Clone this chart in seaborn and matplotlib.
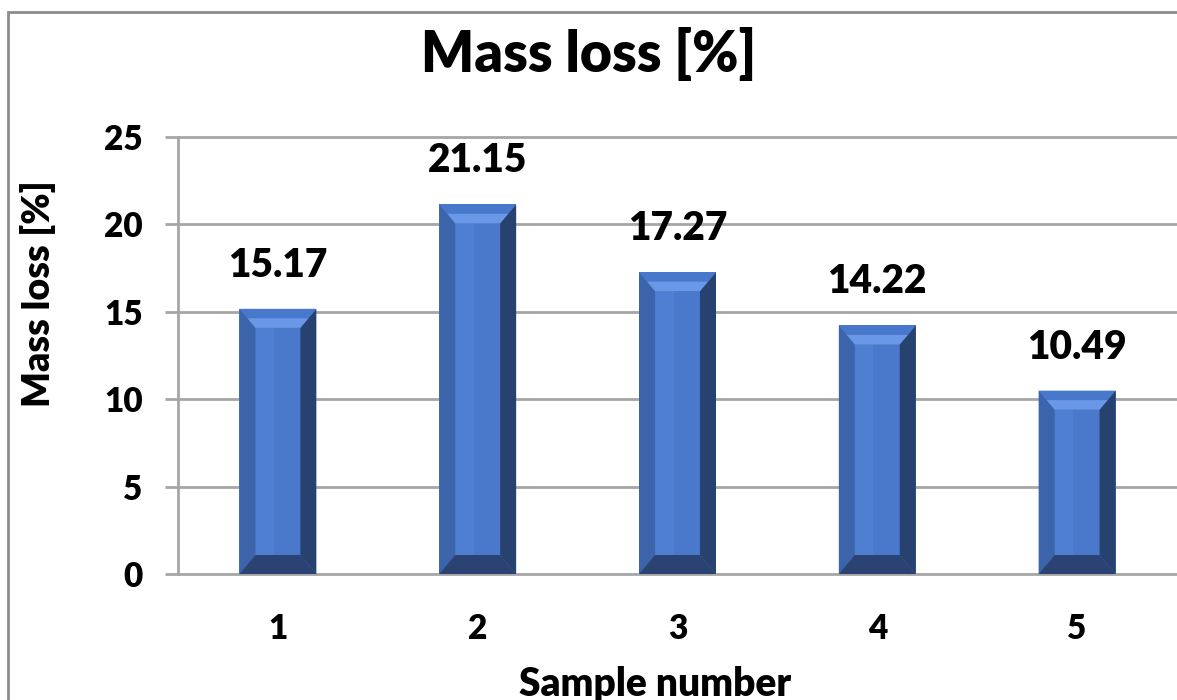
import matplotlib
matplotlib.use("Agg")
import matplotlib.pyplot as plt
import seaborn as sns
import pandas as pd
from matplotlib.patches import Polygon, Rectangle

# ---- data ----
samples = ["1", "2", "3", "4", "5"]
mass_loss = [15.17, 21.15, 17.27, 14.22, 10.49]
value_labels = ["15.17", "21.15", "17.27", "14.22", "10.49"]
y_ticks = [0, 5, 10, 15, 20, 25]
title = "Mass loss [%]"
y_title = "Mass loss [%]"
x_title = "Sample number"

sns.set_theme(style="white")
plt.rcParams['font.family'] = ['Lato', 'DejaVu Sans']
WT = "heavy"

W, H = 1177, 700
fig = plt.figure(figsize=(W / 100, H / 100), dpi=100)
fig.patch.set_facecolor("white")
ax = fig.add_axes([178 / W, 1 - 574 / H, 1 - 178 / W, (574 - 137) / H])

df = pd.DataFrame({"Sample": samples, "Mass": mass_loss})
sns.barplot(data=df, x="Sample", y="Mass", color="#4a79cb", saturation=1,
            width=0.385, edgecolor="none", ax=ax, zorder=3)

ax.set_xlim(-0.5, len(samples) - 0.5)
ax.set_ylim(0, 25)
ax.set_yticks(y_ticks)

grid_c = "#a6a6a6"
ax.yaxis.grid(True, color=grid_c, lw=2)
ax.set_axisbelow(True)
for ln in ax.get_ygridlines():
    ln.set_clip_on(False)
for s in ["top", "right", "bottom"]:
    ax.spines[s].set_visible(False)
ax.spines["left"].set_color(grid_c)
ax.spines["left"].set_linewidth(2)

ax.tick_params(axis="y", left=True, length=9.5, width=2, color=grid_c,
               pad=16, labelsize=24, labelcolor="black")
ax.tick_params(axis="x", bottom=False, length=0, pad=28, labelsize=24,
               labelcolor="black")
for t in ax.get_xticklabels() + ax.get_yticklabels():
    t.set_fontweight(WT)

ax.set_xlabel(x_title, fontsize=28, fontweight=WT, color="black")
ax.set_ylabel(y_title, fontsize=27, fontweight=WT, color="black")
ax.xaxis.set_label_coords((655 - 178) / 999, (574 - 666) / 437)
ax.yaxis.set_label_coords((56 - 178) / 999, (574 - 294) / 437)
fig.text(0.5, 1 - 54 / H, title, ha="center", va="center", fontsize=40,
         fontweight=WT, color="black")

# bevel effect derived from bar geometry
fig.canvas.draw()
bbox = ax.get_window_extent()
px_x = (ax.get_xlim()[1] - ax.get_xlim()[0]) / bbox.width
px_y = (ax.get_ylim()[1] - ax.get_ylim()[0]) / bbox.height
bx = 16 * px_x
by = 19 * px_y
for p, lab in zip(ax.patches, value_labels):
    x0 = p.get_x()
    w = p.get_width()
    h = p.get_height()
    x1 = x0 + w
    xm = x0 + w * 0.45
    hb = by / 2
    fx = bx / 2
    polys = [
        # face left-side highlight
        ([(x0 + bx, by), (xm, by), (xm, h - by), (x0 + bx, h - by)], "#4e7fd2"),
        # left bevel
        ([(x0, 0), (x0 + bx, by), (x0 + bx, h - by), (x0, h)], "#3c64aa"),
        # right bevel
        ([(x1, 0), (x1, h), (x1 - bx, h - by), (x1 - bx, by)], "#27426f"),
        # top bevel outer band
        ([(x0, h), (x1, h), (x1 - fx, h - hb), (x0 + fx, h - hb)], "#4878cc"),
        # top bevel inner band
        ([(x0 + fx, h - hb), (x1 - fx, h - hb), (x1 - bx, h - by), (x0 + bx, h - by)], "#6a98e6"),
        # bottom bevel
        ([(x0, 0), (x0 + bx, by), (x1 - bx, by), (x1, 0)], "#2a4372"),
    ]
    for pts, c in polys:
        ax.add_patch(Polygon(pts, closed=True, facecolor=c, edgecolor="none", zorder=4))
    ax.annotate(lab, (x0 + w / 2, h), xytext=(0, 18), textcoords="offset points",
                ha="center", va="bottom", fontsize=28, fontweight=WT,
                color="black", zorder=5)

# outer chart border (right/bottom run off the image)
fig.patches.append(Rectangle((8 / W, -0.1), 1.2, 1 - 12 / H + 0.1,
                             transform=fig.transFigure, fill=False,
                             edgecolor="#8c8c8c", lw=2))

fig.savefig("out.png", dpi=100)
